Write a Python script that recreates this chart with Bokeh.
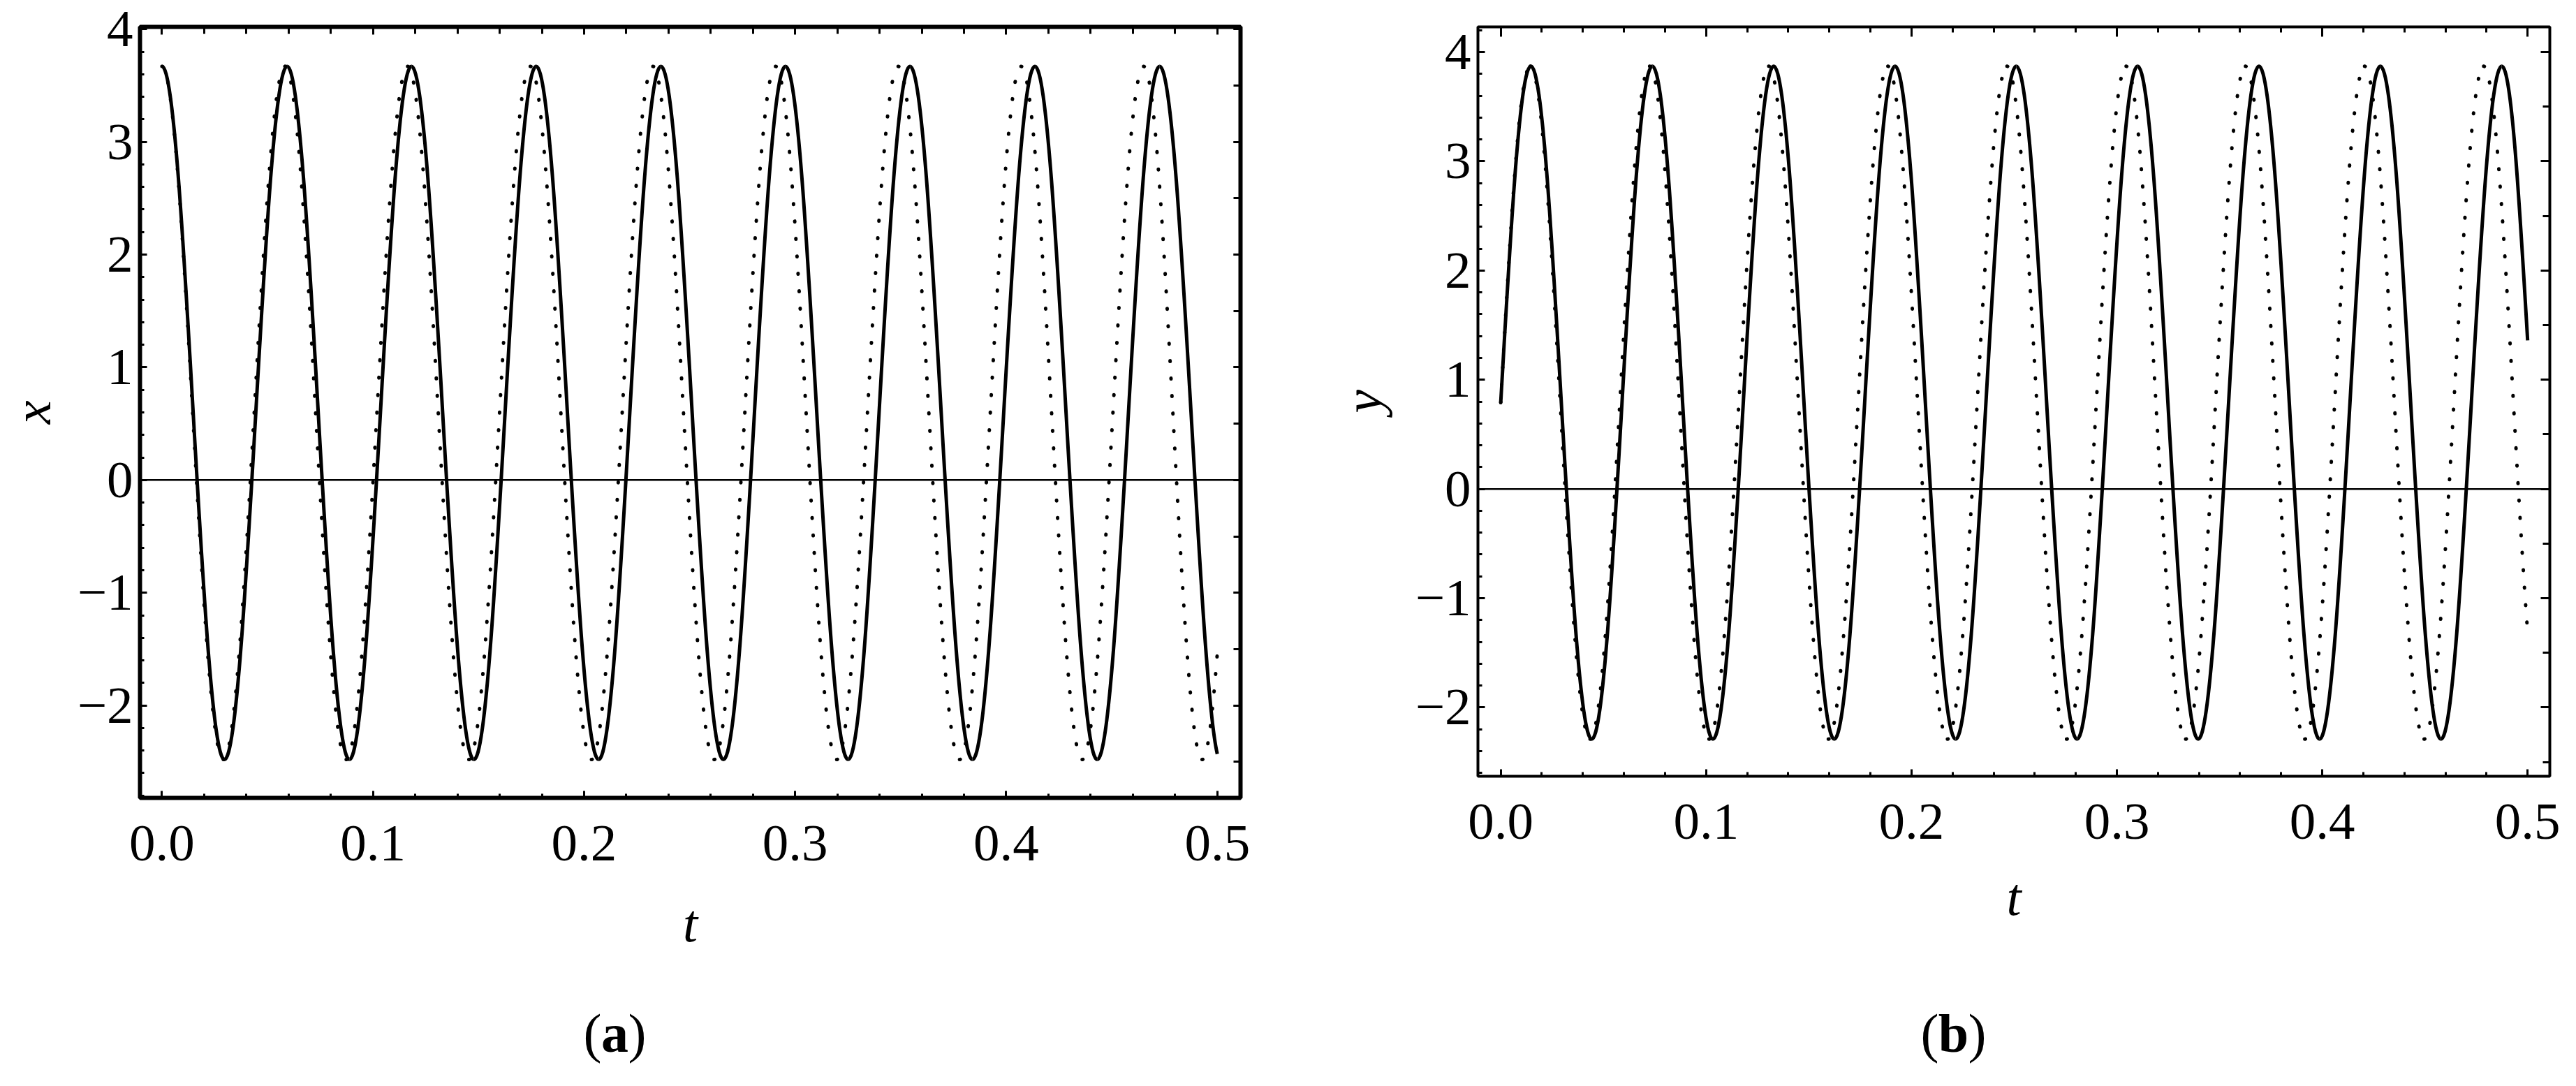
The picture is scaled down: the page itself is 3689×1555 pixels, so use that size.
from bokeh.plotting import figure
from bokeh.models import (Range1d, FixedTicker, LinearAxis, Span, Label,
                          CustomJSTickFormatter, ColumnDataSource)
from bokeh.layouts import row, column
from bokeh.embed import file_html
from bokeh.resources import INLINE

# ------------------------------------------------------------------
# Data.
# Each curve is given by its knots: start value, successive extrema,
# and the value at the end (t = 0.5).
# ------------------------------------------------------------------
# Panel (a): x(t)
xa_solid_t = [0.0, 0.0296, 0.0593, 0.0888, 0.1182, 0.1478, 0.1773, 0.2069, 0.2364,
              0.2660, 0.2954, 0.3251, 0.3544, 0.3840, 0.4136, 0.4431, 0.4727, 0.5]
xa_solid_v = [3.67, -2.48, 3.67, -2.48, 3.67, -2.48, 3.67, -2.48, 3.67,
              -2.48, 3.67, -2.48, 3.67, -2.48, 3.67, -2.48, 3.67, -2.43]
xa_dotted_t = [0.0, 0.0291, 0.0583, 0.0873, 0.1164, 0.1454, 0.1745, 0.2035, 0.2326,
               0.2616, 0.2907, 0.3197, 0.3488, 0.3779, 0.4070, 0.4360, 0.4651, 0.4928, 0.5]
xa_dotted_v = [3.67, -2.48, 3.67, -2.48, 3.67, -2.48, 3.67, -2.48, 3.67,
               -2.48, 3.67, -2.48, 3.67, -2.48, 3.67, -2.48, 3.67, -2.48, -1.54]
# slope (per unit t) at the first and last knot (0 where that knot is an extremum)
xa_solid_end_slopes = [0.0, -79.0]
xa_dotted_end_slopes = [0.0, 234.0]

# Panel (b): y(t)
yb_solid_t = [0.0, 0.0147, 0.0443, 0.0738, 0.1033, 0.1329, 0.1624, 0.1920, 0.2215, 0.2510,
              0.2806, 0.3101, 0.3396, 0.3692, 0.3987, 0.4283, 0.4578, 0.4874, 0.5]
yb_solid_v = [0.79, 3.87, -2.29, 3.87, -2.29, 3.87, -2.29, 3.87, -2.29, 3.87,
              -2.29, 3.87, -2.29, 3.87, -2.29, 3.87, -2.29, 3.87, 1.36]
yb_dotted_t = [0.0, 0.0144, 0.0435, 0.0725, 0.1014, 0.1305, 0.1595, 0.1885, 0.2175, 0.2465,
               0.2755, 0.3045, 0.3335, 0.3626, 0.3915, 0.4206, 0.4496, 0.4786, 0.5]
yb_dotted_v = [0.79, 3.87, -2.29, 3.87, -2.29, 3.87, -2.29, 3.87, -2.29, 3.87,
               -2.29, 3.87, -2.29, 3.87, -2.29, 3.87, -2.29, 3.87, -1.31]
yb_solid_end_slopes = [327.0, -319.0]
yb_dotted_end_slopes = [336.0, -246.0]

t_ticks = [0.0, 0.1, 0.2, 0.3, 0.4, 0.5]
value_ticks = [-2, -1, 0, 1, 2, 3, 4]
axis_names = ["x", "y"]
panel_tags = ["a", "b"]
time_name = "t"

FONT = "Liberation Serif"
C_HALF = 0.364  # cubic-Bezier handle giving a cosine-like half wave


def bezier_source(ts, vs, end_slopes):
    n = len(ts)
    slopes = [0.0] * n
    slopes[0], slopes[-1] = end_slopes
    d = {k: [] for k in ("x0", "y0", "x1", "y1", "cx0", "cy0", "cx1", "cy1")}
    for i in range(n - 1):
        t0, t1, v0, v1 = ts[i], ts[i + 1], vs[i], vs[i + 1]
        dt = t1 - t0
        k0 = C_HALF if slopes[i] == 0 else 1.0 / 3.0
        k1 = C_HALF if slopes[i + 1] == 0 else 1.0 / 3.0
        d["x0"].append(t0); d["y0"].append(v0)
        d["x1"].append(t1); d["y1"].append(v1)
        d["cx0"].append(t0 + k0 * dt); d["cy0"].append(v0 + slopes[i] * k0 * dt)
        d["cx1"].append(t1 - k1 * dt); d["cy1"].append(v1 - slopes[i + 1] * k1 * dt)
    return ColumnDataSource(d)


def make_panel(width, height, borders, xr, yr, ylabel, solid, dotted, frame_w,
               ylabel_standoff, xlabel_standoff, top_len, right_len):
    left, right, top, bottom = borders
    p = figure(width=width, height=height, title=None, toolbar_location=None,
               output_backend="svg", x_range=Range1d(*xr), y_range=Range1d(*yr),
               min_border_left=left, min_border_right=right,
               min_border_top=top, min_border_bottom=bottom,
               x_axis_type=None, y_axis_type=None)
    p.background_fill_color = "white"
    p.border_fill_color = "white"
    p.outline_line_color = "black"
    p.outline_line_width = frame_w
    p.xgrid.visible = False
    p.ygrid.visible = False

    y_minor = [round(v * 0.2, 2) for v in range(int(yr[0] / 0.2) - 1, int(yr[1] / 0.2) + 2)]
    t_minor = [round(v * 0.02, 2) for v in range(0, 26)]
    half_ticks = [v * 0.5 for v in range(int(yr[0] * 2) - 1, int(yr[1] * 2) + 2)]

    def style(ax):
        ax.axis_line_color = None
        ax.major_tick_out = 0
        ax.minor_tick_out = 0
        ax.major_tick_line_width = 3
        ax.minor_tick_line_width = 3
        ax.major_tick_line_color = "black"
        ax.minor_tick_line_color = "black"
        ax.major_label_text_font = FONT
        ax.major_label_text_font_size = "75px"
        ax.major_label_text_color = "black"
        ax.axis_label_text_font = FONT
        ax.axis_label_text_font_size = "76px"
        ax.axis_label_text_font_style = "italic"
        ax.axis_label_text_color = "black"

    yax = LinearAxis(ticker=FixedTicker(ticks=value_ticks, minor_ticks=y_minor),
                     formatter=CustomJSTickFormatter(
                         code="return tick < 0 ? '\u2212' + Math.abs(tick) : String(tick);"),
                     axis_label=ylabel)
    style(yax)
    yax.major_tick_in = 10
    yax.minor_tick_in = 6
    yax.major_label_standoff = 10
    yax.axis_label_standoff = ylabel_standoff
    p.add_layout(yax, "left")

    xax = LinearAxis(ticker=FixedTicker(ticks=t_ticks, minor_ticks=t_minor),
                     formatter=CustomJSTickFormatter(code="return tick.toFixed(1);"),
                     axis_label=time_name)
    style(xax)
    xax.major_tick_in = 10
    xax.minor_tick_in = 6
    xax.major_label_standoff = 40
    xax.axis_label_standoff = xlabel_standoff
    p.add_layout(xax, "below")

    empty = CustomJSTickFormatter(code="return '';")
    tax = LinearAxis(ticker=FixedTicker(ticks=t_ticks, minor_ticks=t_minor), formatter=empty)
    style(tax)
    tax.major_tick_in = top_len[0]
    tax.minor_tick_in = top_len[1]
    tax.major_label_standoff = 0
    p.add_layout(tax, "above")

    rax = LinearAxis(ticker=FixedTicker(ticks=value_ticks, minor_ticks=half_ticks), formatter=empty)
    style(rax)
    rax.major_tick_in = right_len[0]
    rax.minor_tick_in = right_len[1]
    rax.major_label_standoff = 0
    p.add_layout(rax, "right")

    p.add_layout(Span(location=0, dimension="width", line_color="black", line_width=2.5))

    s_src = bezier_source(*solid)
    d_src = bezier_source(*dotted)
    bz = dict(x0="x0", y0="y0", x1="x1", y1="y1", cx0="cx0", cy0="cy0", cx1="cx1", cy1="cy1")
    p.bezier(source=d_src, line_color="black", line_width=5, line_dash="1 24",
             line_cap="round", **bz)
    p.bezier(source=s_src, line_color="black", line_width=5, **bz)
    return p


TOP = 38
BOTTOM = 250
pa = make_panel(1892, TOP + 1104 + BOTTOM, (197, 116, TOP, BOTTOM),
                (-0.0104, 0.511), (-2.82, 4.02), axis_names[0],
                (xa_solid_t, xa_solid_v, xa_solid_end_slopes),
                (xa_dotted_t, xa_dotted_v, xa_dotted_end_slopes),
                6, 20, 45, (11, 10), (10, 10))

pb = make_panel(1781, TOP + 1073 + BOTTOM, (224, 22, TOP, BOTTOM),
                (-0.0111, 0.5108), (-2.63, 4.23), axis_names[1],
                (yb_solid_t, yb_solid_v, yb_solid_end_slopes),
                (yb_dotted_t, yb_dotted_v, yb_dotted_end_slopes),
                4, 30, 38, (14, 8), (13, 10))

# strip holding the panel tags "(a)" and "(b)"
TAG_W, TAG_H = 3673, 1539 - (TOP + 1104 + BOTTOM)
tags = figure(width=TAG_W, height=TAG_H, title=None, toolbar_location=None,
              output_backend="svg", x_range=Range1d(0, TAG_W), y_range=Range1d(0, TAG_H),
              min_border=0, min_border_left=0, min_border_right=0,
              min_border_top=0, min_border_bottom=0,
              x_axis_type=None, y_axis_type=None)
tags.outline_line_color = None
tags.xgrid.visible = False
tags.ygrid.visible = False
tags.background_fill_color = "white"
tags.border_fill_color = "white"
for tag, cx, half in ((panel_tags[0], 880, 19), (panel_tags[1], 2797, 21)):
    for txt, off, fst, align in (("(", -half, "normal", "right"),
                                 (tag, 0, "bold", "center"),
                                 (")", half, "normal", "left")):
        tags.add_layout(Label(x=cx, y=60, x_offset=off, text=txt, text_font=FONT,
                              text_font_size="78px", text_font_style=fst,
                              text_align=align, text_baseline="alphabetic",
                              text_color="black"))

layout = column(row(pa, pb), tags)
open("out.html", "w").write(file_html(layout, INLINE))
